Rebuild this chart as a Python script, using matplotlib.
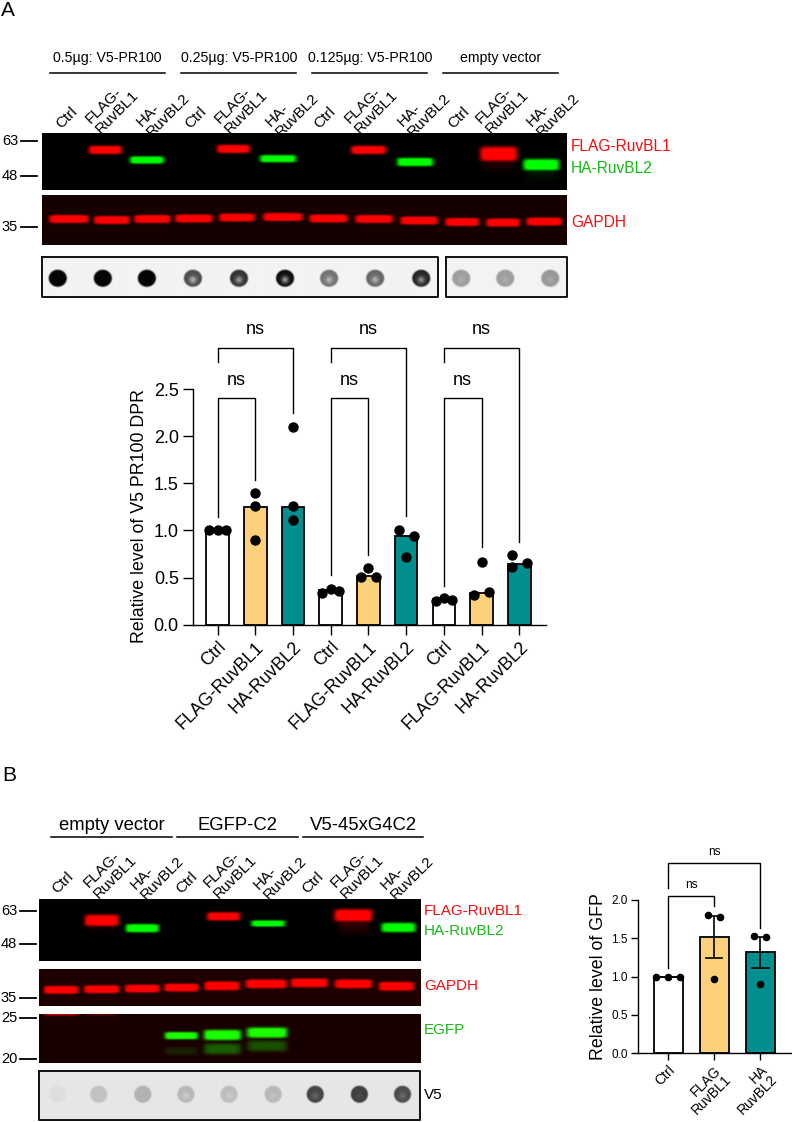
import numpy as np
import matplotlib
matplotlib.use('Agg')
import matplotlib.pyplot as plt

plt.rcParams['font.family'] = ['Liberation Sans', 'DejaVu Sans']

# Bar chart A
labels_a = ['Ctrl', 'FLAG-RuvBL1', 'HA-RuvBL2'] * 3
means_a = [1.0, 1.25, 1.25, 0.37, 0.52, 0.94, 0.27, 0.34, 0.64]
points_a = [[1.0, 1.0, 1.0], [1.40, 1.26, 0.90], [2.10, 1.26, 1.11],
            [0.34, 0.38, 0.36], [0.51, 0.60, 0.51], [1.00, 0.72, 0.94],
            [0.25, 0.28, 0.26], [0.31, 0.67, 0.35], [0.74, 0.615, 0.65]]
offsets_a = [[-0.22, 0, 0.22], [0, 0, 0], [0, 0, 0],
             [-0.22, 0, 0.22], [-0.2, 0, 0.2], [-0.2, 0, 0.2],
             [-0.22, 0, 0.22], [-0.2, 0, 0.2], [-0.2, -0.2, 0.2]]
colors_a = ['white', '#FDD17C', '#008E8E'] * 3
# (left x, right x, top y, left leg end, right leg end)
brackets_a = [(0, 2, 2.94, 2.79, 2.25), (0, 1, 2.40, 1.14, 1.535),
              (3, 5, 2.94, 2.79, 1.15), (3, 4, 2.40, 0.53, 0.74),
              (6, 8, 2.94, 2.79, 0.88), (6, 7, 2.40, 0.41, 0.82)]

# Bar chart B
labels_b = ['Ctrl', 'FLAG\nRuvBL1', 'HA\nRuvBL2']
means_b = [1.0, 1.52, 1.32]
points_b = [[1.0, 1.0, 1.0], [1.81, 1.78, 0.974], [1.53, 1.517, 0.904]]
offsets_b = [[-0.26, 0, 0.26], [-0.13, 0.13, 0], [-0.13, 0.13, 0]]
err_low_b = [1.0, 1.248, 1.113]
err_high_b = [1.0, 1.795, 1.52]
colors_b = ['white', '#FDD17C', '#008E8E']
brackets_b = [(0, 2, 2.483, 2.152, 1.64), (0, 1, 2.048, 1.117, 1.92)]

# Blot bands: x0, x1, y, thickness, brightness
flag_a = [(88, 121, 150, 7, 1.0), (216, 249, 149, 7, 1.0), (350, 385, 150, 7, 1.0),
          (479, 516, 154, 13, 1.0)]
ha_a = [(129, 163, 160, 6, 1.0), (259, 295, 158.7, 6, 1.0), (396, 432, 162, 7, 1.0),
        (522, 558, 164.7, 10, 1.0)]
gapdh_a = [(48, 88, 218.5, 7, 1.0), (93, 129, 219.5, 7, 1.0), (133, 170, 218.5, 7, 1.0),
           (174, 212, 218, 7, 1.0), (218, 254, 217, 7, 1.0), (262, 302, 216.5, 7, 1.0),
           (308, 347, 218, 7, 1.0), (354, 392, 218.5, 7, 1.0), (399, 437, 220, 7, 1.0),
           (444, 478, 221.5, 7, 1.0), (485, 519, 222, 7, 1.0), (525, 561, 221, 7, 1.0)]
dots_a_x = [57, 102, 146, 192, 238, 284, 328, 374, 420, 461, 505, 550]
dots_a_level = [0.02, 0.02, 0.02, 0.3, 0.2, 0.05, 0.45, 0.4, 0.15, 0.62, 0.62, 0.6]
dots_a_hole = [0.02, 0.02, 0.02, 0.7, 0.6, 0.6, 0.7, 0.7, 0.55, 0.68, 0.68, 0.66]

flag_b = [(84, 118, 920, 10, 1.0), (206, 239, 916, 7, 1.0), (333, 371, 915, 11, 1.0)]
ha_b = [(125, 158, 927.7, 7, 1.0), (250, 284, 923, 5, 0.95), (380, 414, 927, 8, 1.0)]
gapdh_b = [(43, 78, 989.3, 7, 1.0), (83, 119, 988.7, 7, 1.0), (124, 159, 988, 7, 1.0),
           (163, 198, 987, 7, 1.0), (203, 239, 985.3, 8, 1.0), (244, 286, 983.3, 8, 1.0),
           (289, 327, 982.3, 8, 1.0), (333, 371, 983.3, 8, 1.0), (377, 413, 985.7, 8, 1.0)]
egfp_b = [(164, 197, 1035.7, 6, 1.0), (203, 240, 1035, 9, 1.0), (246, 286, 1032.7, 9, 1.0)]
egfp_faint_b = [(164, 197, 1051, 7, 0.1), (203, 240, 1049, 10, 0.3), (246, 286, 1046, 10, 0.25)]
dots_b_x = [57, 98, 142, 185, 228, 272, 314, 358, 401]
dots_b_level = [0.87, 0.76, 0.7, 0.72, 0.74, 0.72, 0.27, 0.25, 0.3]
dots_b_hole = [0.87, 0.76, 0.7, 0.8, 0.8, 0.76, 0.4, 0.3, 0.42]

fig = plt.figure(figsize=(7.92, 11.22), dpi=100)
page = fig.add_axes([0, 0, 1, 1])


def blot(x0, x1, y0, y1, red=(), green=(), bg=(0, 0, 0), smear=()):
    ny, nx = int((y1 - y0) * 2), int((x1 - x0) * 2)
    yy, xx = np.mgrid[0:ny, 0:nx]
    yy = y0 + yy / 2
    xx = x0 + xx / 2
    img = np.zeros((ny, nx, 3)) + np.array(bg)
    for chan, bands in ((0, red), (1, green)):
        for bx0, bx1, by, th, val in bands:
            mid = (bx0 + bx1) / 2
            half = (bx1 - bx0) / 2
            px = np.exp(-np.abs((xx - mid) / half) ** 8)
            py = np.exp(-np.abs((yy - by) / (th / 2 + 0.6)) ** 4)
            img[:, :, chan] = np.maximum(img[:, :, chan], np.clip(val * 1.25 * px * py, 0, 1))
    for chan, bx0, bx1, by0, by1, val in smear:
        mid = (bx0 + bx1) / 2
        half = (bx1 - bx0) / 2
        px = np.exp(-np.abs((xx - mid) / half) ** 6)
        py = np.clip((by1 - yy) / (by1 - by0), 0, 1) * (yy >= by0)
        img[:, :, chan] = np.maximum(img[:, :, chan], val * px * py)
    page.imshow(img, extent=(x0, x1, y1, y0), aspect='auto', interpolation='bilinear', zorder=1)


def dot_blot(x0, x1, y0, y1, xs, levels, holes, cy, rx, ry, bg):
    ny, nx = int((y1 - y0) * 2), int((x1 - x0) * 2)
    yy, xx = np.mgrid[0:ny, 0:nx]
    yy = y0 + yy / 2
    xx = x0 + xx / 2
    img = np.full((ny, nx), bg, dtype=float)
    for cx, lev, hole in zip(xs, levels, holes):
        r = np.sqrt(((xx - cx) / rx) ** 2 + ((yy - cy) / ry) ** 2)
        edge = np.clip((1.1 - r) / 0.2, 0, 1)
        inner = np.exp(-(np.sqrt((xx - cx) ** 2 + (yy - cy - 1.5) ** 2) / 3.5) ** 2)
        val = lev + (hole - lev) * inner
        img = img * (1 - edge) + val * edge
    page.imshow(img, extent=(x0, x1, y1, y0), aspect='auto', cmap='gray', vmin=0, vmax=1,
                interpolation='bilinear', zorder=1)
    page.plot([x0, x1, x1, x0, x0], [y0, y0, y1, y1, y0], color='#111111', lw=1.4, zorder=2)


def lane_labels(xy_ctrl, xy_flag, xy_ha, size):
    for x, y in xy_ctrl:
        page.text(x, y, 'Ctrl', rotation=45, ha='center', va='center', fontsize=size,
                  rotation_mode='anchor')
    for x, y in xy_flag:
        page.text(x, y, 'FLAG-\nRuvBL1', rotation=45, ha='center', va='center', fontsize=size,
                  multialignment='left', rotation_mode='anchor', linespacing=1.1)
    for x, y in xy_ha:
        page.text(x, y, 'HA-\nRuvBL2', rotation=45, ha='center', va='center', fontsize=size,
                  multialignment='left', rotation_mode='anchor', linespacing=1.1)


def kd_marks(marks, x0, x1, tx, size):
    for lab, y in marks:
        page.plot([x0, x1], [y, y], color='black', lw=1.3, zorder=2)
        page.text(tx, y, lab, ha='center', va='center', fontsize=size)


# Panel A blots
blot(41.5, 566, 133.5, 190, red=flag_a, green=ha_a,
     smear=[(0, 481, 514, 158, 175, 0.2), (1, 524, 556, 168, 184, 0.12)])
blot(41.5, 566, 195, 244.5, red=gapdh_a, bg=(0.09, 0, 0))
dot_blot(41.5, 438, 257, 297, dots_a_x[:9], dots_a_level[:9], dots_a_hole[:9], 278, 9, 8.5, 0.95)
dot_blot(446, 567, 257, 297, dots_a_x[9:], dots_a_level[9:], dots_a_hole[9:], 278, 9, 8.5, 0.95)

# Panel B blots
blot(38.7, 420, 899, 960.7, red=flag_b, green=ha_b,
     smear=[(0, 336, 369, 920, 938, 0.25), (0, 86, 116, 924, 932, 0.15)])
blot(38.7, 420, 968.7, 1005.7, red=gapdh_b, bg=(0.12, 0, 0))
blot(38.7, 420, 1014.3, 1063.3, red=[(42, 78, 1014.3, 2, 0.6), (83, 118, 1014.3, 2, 0.3)],
     green=egfp_b + egfp_faint_b, bg=(0.1, 0, 0))
dot_blot(38.7, 420, 1071, 1120, dots_b_x, dots_b_level, dots_b_hole, 1094, 8.5, 8.5, 0.9)

# Panel letters
page.text(1, 10, 'A', fontsize=15, ha='left', va='center')
page.text(2, 775, 'B', fontsize=15, ha='left', va='center')

# Panel A headers
for txt, x, x0, x1 in [('0.5µg: V5-PR100', 107, 50, 165), ('0.25µg: V5-PR100', 239, 181, 296),
                       ('0.125µg: V5-PR100', 370, 312, 427), ('empty vector', 501, 443, 558)]:
    page.text(x, 58, txt, ha='center', va='center', fontsize=10.2)
    page.plot([x0, x1], [73, 73], color='black', lw=1.1, zorder=2)
lane_labels([(67, 118), (196, 118), (325, 118), (459, 118)],
            [(112, 107), (241, 107), (371, 107), (502, 107)],
            [(163, 110), (292, 110), (424, 110), (553, 110)], 11)
kd_marks([('63', 141), ('48', 176), ('35', 227)], 21, 37, 10, 10.5)
page.text(571, 146, 'FLAG-RuvBL1', color='#F01010', fontsize=11.2, va='center')
page.text(571, 168, 'HA-RuvBL2', color='#18B818', fontsize=11.2, va='center')
page.text(571, 222, 'GAPDH', color='#F01010', fontsize=11.2, va='center')

# Panel B headers
for txt, x0, x1 in [('empty vector', 51, 171.7), ('EGFP-C2', 177, 297.7), ('V5-45xG4C2', 303, 423)]:
    page.text((x0 + x1) / 2, 825, txt, ha='center', va='center', fontsize=13.3)
    page.plot([x0, x1], [837.3, 837.3], color='black', lw=1.1, zorder=2)
lane_labels([(63, 882.7), (187, 882.7), (313, 882.7)],
            [(110, 871.7), (230, 871.7), (357, 871.7)],
            [(157, 873), (280, 873), (407, 873)], 11)
kd_marks([('63', 911), ('48', 944), ('35', 998), ('25', 1018), ('20', 1059)], 20, 35.7, 9, 10.5)
page.text(424, 911, 'FLAG-RuvBL1', color='#F01010', fontsize=11, va='center')
page.text(424, 931, 'HA-RuvBL2', color='#18B818', fontsize=11, va='center')
page.text(424, 985.5, 'GAPDH', color='#F01010', fontsize=11, va='center')
page.text(424, 1030, 'EGFP', color='#18B818', fontsize=11, va='center')
page.text(424, 1095, 'V5', color='black', fontsize=11, va='center')

page.set_xlim(0, 792)
page.set_ylim(1122, 0)
page.axis('off')


def bar_axes(left, right, top, bottom):
    ax = fig.add_axes([left / 792, 1 - bottom / 1122, (right - left) / 792, (bottom - top) / 1122])
    ax.patch.set_alpha(0)
    ax.spines['top'].set_visible(False)
    ax.spines['right'].set_visible(False)
    return ax


# Chart A
ax = bar_axes(192.7, 546, 389, 624.7)
xs = np.arange(len(means_a))
ax.bar(xs, means_a, width=0.6, color=colors_a, edgecolor='black', linewidth=1.3)
for x, pts, offs in zip(xs, points_a, offsets_a):
    ax.scatter(x + np.array(offs), pts, s=42, color='black', zorder=3, clip_on=False)
for x0, x1, top, leg0, leg1 in brackets_a:
    ax.plot([x0, x0, x1, x1], [leg0, top, top, leg1], color='black', lw=1.0, clip_on=False)
    ax.text((x0 + x1) / 2, top + 0.19, 'ns', ha='center', va='center', fontsize=13)
ax.set_xlim(-0.663, 8.71)
ax.set_ylim(0, 2.5)
ax.set_yticks([0, 0.5, 1.0, 1.5, 2.0, 2.5])
ax.set_yticklabels(['0.0', '0.5', '1.0', '1.5', '2.0', '2.5'], fontsize=13)
ax.set_xticks(xs)
ax.set_xticklabels(labels_a, rotation=45, ha='right', rotation_mode='anchor', fontsize=12.8)
ax.tick_params(axis='both', length=7, width=1.0, pad=3)
ax.set_ylabel('Relative level of V5 PR100 DPR', fontsize=12.8, labelpad=4, y=0.46)
for s in ['left', 'bottom']:
    ax.spines[s].set_linewidth(1.0)

# Chart B
ax2 = bar_axes(637.7, 790.7, 900, 1053.3)
xs2 = np.arange(len(means_b))
ax2.bar(xs2, means_b, width=0.63, color=colors_b, edgecolor='black', linewidth=1.3)
ax2.vlines(xs2[1:], err_low_b[1:], err_high_b[1:], color='black', lw=1.2, zorder=2.5)
for x, lo, hi in zip(xs2[1:], err_low_b[1:], err_high_b[1:]):
    ax2.plot([x - 0.18, x + 0.18], [lo, lo], color='black', lw=1.2, zorder=2.5)
    ax2.plot([x - 0.18, x + 0.18], [hi, hi], color='black', lw=1.2, zorder=2.5)
ax2.plot([-0.26, 0.26], [1, 1], color='black', lw=1.2, zorder=2.5)
for x, pts, offs in zip(xs2, points_b, offsets_b):
    ax2.scatter(x + np.array(offs), pts, s=20, color='black', zorder=3, clip_on=False)
for x0, x1, top, leg0, leg1 in brackets_b:
    ax2.plot([x0, x0, x1, x1], [leg0, top, top, leg1], color='black', lw=1.0, clip_on=False)
ax2.text(1, 2.63, 'ns', ha='center', va='center', fontsize=8.5)
ax2.text(0.5, 2.2, 'ns', ha='center', va='center', fontsize=8.5)
ax2.set_xlim(-0.66, 2.66)
ax2.set_ylim(0, 2)
ax2.set_yticks([0, 0.5, 1.0, 1.5, 2.0])
ax2.set_yticklabels(['0.0', '0.5', '1.0', '1.5', '2.0'], fontsize=8.5)
ax2.set_xticks(xs2)
ax2.set_xticklabels(labels_b, rotation=45, ha='right', rotation_mode='anchor', fontsize=10,
                    linespacing=0.95)
ax2.tick_params(axis='both', length=5, width=1.0, pad=2)
ax2.set_ylabel('Relative level of GFP', fontsize=12.8, labelpad=3, y=0.5)
for s in ['left', 'bottom']:
    ax2.spines[s].set_linewidth(1.0)

plt.savefig('out.png', dpi=100)
